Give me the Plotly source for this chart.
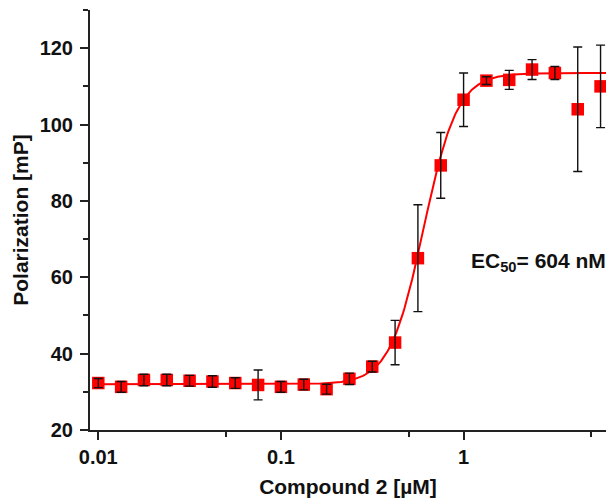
import numpy as np
import plotly.graph_objects as go

# Compound 2 concentrations (µM), 1.33-fold dilution series
conc = [0.01, 0.01334, 0.01778, 0.02371, 0.03162, 0.04217, 0.05623, 0.07499,
        0.1, 0.1334, 0.1778, 0.2371, 0.3162, 0.4217, 0.5623, 0.7499,
        1.0, 1.334, 1.778, 2.371, 3.162, 4.217, 5.623]

# Mean fluorescence polarization (mP) and standard deviation
polarization = [32.3, 31.3, 33.1, 33.1, 32.9, 32.7, 32.3, 31.8,
                31.3, 31.9, 30.7, 33.4, 36.6, 42.9, 65.0, 89.3,
                106.5, 111.5, 111.7, 114.4, 113.5, 104.0, 110.0]
sd = [1.2, 1.4, 1.5, 1.5, 1.4, 1.5, 1.4, 3.9,
      1.4, 1.4, 1.3, 1.5, 1.4, 5.8, 14.0, 8.6,
      7.0, 1.0, 2.5, 2.6, 1.7, 16.3, 10.8]

# Four-parameter dose-response fit
fit_bottom = 32.0
fit_top = 113.5
fit_ec50 = 0.604  # µM
fit_hill = 4.7

xfit = np.logspace(np.log10(0.0095), np.log10(6.5), 400)
yfit = fit_bottom + (fit_top - fit_bottom) / (1 + 10 ** ((np.log10(fit_ec50) - np.log10(xfit)) * fit_hill))

FONT = "Liberation Sans, Arial, sans-serif"

fig = go.Figure()

fig.add_trace(go.Scatter(
    x=xfit, y=yfit, mode="lines",
    line=dict(color="#ff0000", width=2),
    hoverinfo="skip", showlegend=False,
))

fig.add_trace(go.Scatter(
    x=conc, y=polarization, mode="markers",
    marker=dict(symbol="square", size=12.5, color="#ff0000", line=dict(width=0)),
    showlegend=False,
))

# error bars drawn above the markers
fig.add_trace(go.Scatter(
    x=conc, y=polarization, mode="markers",
    marker=dict(size=1, opacity=0),
    error_y=dict(type="data", array=sd, visible=True,
                 color="#111111", thickness=1.4, width=4.5),
    showlegend=False, hoverinfo="skip",
))

fig.add_annotation(
    x=1, xref="paper", xanchor="right", xshift=2,
    y=64, yref="y", yanchor="middle",
    text="EC<sub>50</sub>= 604 nM", showarrow=False,
    font=dict(family=FONT, size=21, color="#111111", weight="bold"),
)

fig.update_layout(
    width=606, height=504,
    margin=dict(l=90, r=0, t=10, b=74),
    paper_bgcolor="white", plot_bgcolor="white",
    font=dict(family=FONT, color="#111111"),
)

fig.update_xaxes(
    type="log", range=[-2.0454, 0.7798],
    tickvals=[0.01, 0.1, 1], ticktext=["0.01", "0.1", "1"],
    ticks="outside", ticklen=8, tickwidth=2, tickcolor="#222222",
    minor=dict(tickvals=[0.05, 0.5, 5], ticks="outside", ticklen=5,
               tickwidth=2, tickcolor="#222222", showgrid=False),
    showline=True, linewidth=2, linecolor="#222222",
    showgrid=False, zeroline=False,
    tickfont=dict(family=FONT, size=20, color="#111111", weight="bold"),
    title=dict(text="Compound 2 [µM]", standoff=12,
               font=dict(family=FONT, size=21, color="#111111", weight="bold")),
)

fig.update_yaxes(
    range=[20, 130],
    tick0=20, dtick=20,
    ticks="outside", ticklen=8, tickwidth=2, tickcolor="#222222",
    ticklabelstandoff=3,
    minor=dict(tick0=20, dtick=10, ticks="outside", ticklen=5,
               tickwidth=2, tickcolor="#222222", showgrid=False),
    showline=True, linewidth=2, linecolor="#222222",
    showgrid=False, zeroline=False,
    tickfont=dict(family=FONT, size=20, color="#111111", weight="bold"),
    title=dict(text="Polarization [mP]", standoff=5,
               font=dict(family=FONT, size=21, color="#111111", weight="bold")),
)

fig.write_html("out.html")
